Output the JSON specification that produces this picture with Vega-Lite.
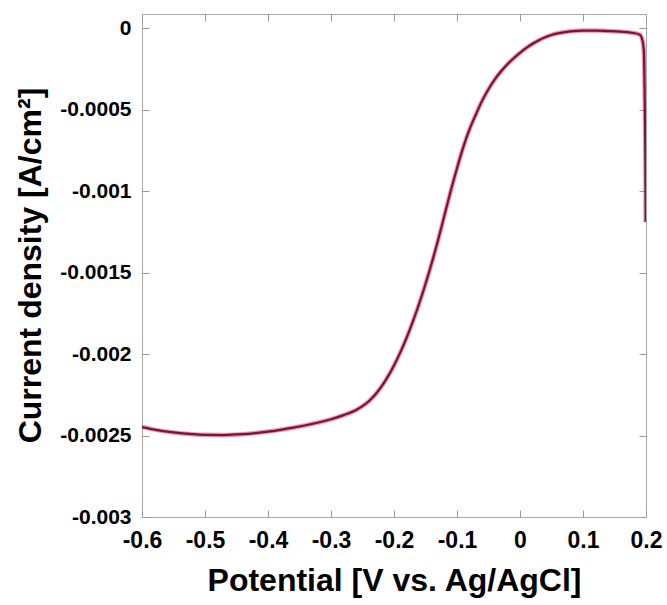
{
  "$schema": "https://vega.github.io/schema/vega-lite/v6.json",
  "width": 504,
  "height": 503,
  "autosize": {"type": "none"},
  "padding": {"left": 142, "top": 14, "right": 21, "bottom": 88},
  "background": "white",
  "config": {
    "view": {"stroke": "#a8a8a8", "strokeWidth": 1},
    "font": "Liberation Sans"
  },
  "data": {
    "values": [
      {"E": -0.6, "j": -0.002448},
      {"E": -0.58, "j": -0.002464},
      {"E": -0.55, "j": -0.002481},
      {"E": -0.52, "j": -0.002492},
      {"E": -0.5, "j": -0.002496},
      {"E": -0.47, "j": -0.002497},
      {"E": -0.44, "j": -0.002492},
      {"E": -0.42, "j": -0.002485},
      {"E": -0.4, "j": -0.002476},
      {"E": -0.38, "j": -0.002465},
      {"E": -0.36, "j": -0.002452},
      {"E": -0.34, "j": -0.002437},
      {"E": -0.32, "j": -0.00242},
      {"E": -0.3, "j": -0.0024},
      {"E": -0.28, "j": -0.002375},
      {"E": -0.26, "j": -0.002343},
      {"E": -0.25, "j": -0.00232},
      {"E": -0.24, "j": -0.00229},
      {"E": -0.23, "j": -0.00225},
      {"E": -0.22, "j": -0.0022},
      {"E": -0.21, "j": -0.00214},
      {"E": -0.2, "j": -0.00207},
      {"E": -0.19, "j": -0.00199},
      {"E": -0.18, "j": -0.0019},
      {"E": -0.17, "j": -0.0018},
      {"E": -0.16, "j": -0.00169},
      {"E": -0.15, "j": -0.00157},
      {"E": -0.14, "j": -0.00144},
      {"E": -0.13, "j": -0.0013},
      {"E": -0.12, "j": -0.00115},
      {"E": -0.11, "j": -0.001},
      {"E": -0.1, "j": -0.00086},
      {"E": -0.09, "j": -0.00073},
      {"E": -0.08, "j": -0.00062},
      {"E": -0.07, "j": -0.00053},
      {"E": -0.06, "j": -0.000445},
      {"E": -0.05, "j": -0.000375},
      {"E": -0.04, "j": -0.000315},
      {"E": -0.03, "j": -0.000265},
      {"E": -0.02, "j": -0.000222},
      {"E": -0.01, "j": -0.000185},
      {"E": 0.0, "j": -0.000152},
      {"E": 0.01, "j": -0.000122},
      {"E": 0.02, "j": -0.000096},
      {"E": 0.03, "j": -0.000074},
      {"E": 0.04, "j": -0.000056},
      {"E": 0.05, "j": -0.000042},
      {"E": 0.06, "j": -0.000032},
      {"E": 0.08, "j": -0.00002},
      {"E": 0.1, "j": -0.000015},
      {"E": 0.12, "j": -0.000015},
      {"E": 0.14, "j": -0.000018},
      {"E": 0.16, "j": -0.000022},
      {"E": 0.18, "j": -0.00003},
      {"E": 0.19, "j": -0.00004},
      {"E": 0.194, "j": -0.00007},
      {"E": 0.1965, "j": -0.000135},
      {"E": 0.198, "j": -0.00044},
      {"E": 0.199, "j": -0.0008},
      {"E": 0.1995, "j": -0.00119}
    ]
  },
  "layer": [
    {
      "mark": {"type": "line", "color": "#d8436f", "strokeWidth": 4.5, "opacity": 0.55, "interpolate": "monotone", "clip": true},
      "encoding": {
        "x": {
          "field": "E", "type": "quantitative",
          "scale": {"domain": [-0.6, 0.2], "nice": false, "zero": false},
          "axis": {
            "orient": "bottom",
            "values": [-0.6, -0.5, -0.4, -0.3, -0.2, -0.1, 0, 0.1, 0.2],
            "labelExpr": "datum.value + ''",
            "domain": false, "grid": false,
            "tickSize": -7, "tickColor": "#999999", "tickWidth": 1,
            "labelFont": "Liberation Sans", "labelFontWeight": "bold", "labelFontSize": 23,
            "labelColor": "black", "labelBaseline": "alphabetic", "labelPadding": 37,
            "labelFlush": false, "labelOverlap": false,
            "title": "Potential [V vs. Ag/AgCl]",
            "titleFont": "Liberation Sans", "titleFontWeight": "bold", "titleFontSize": 32,
            "titleColor": "black", "titleX": 252, "titleY": 73,
            "titleAlign": "center", "titleBaseline": "alphabetic"
          }
        },
        "y": {
          "field": "j", "type": "quantitative",
          "scale": {"domain": [-0.003, 0.0000865], "nice": false, "zero": false},
          "axis": {
            "orient": "left",
            "values": [0, -0.0005, -0.001, -0.0015, -0.002, -0.0025, -0.003],
            "labelExpr": "datum.value + ''",
            "domain": false, "grid": false,
            "tickSize": -7, "tickColor": "#999999", "tickWidth": 1,
            "labelFont": "Liberation Sans", "labelFontWeight": "bold", "labelFontSize": 21,
            "labelColor": "black", "labelPadding": 18,
            "labelFlush": false, "labelOverlap": false,
            "title": "Current density [A/cm²]",
            "titleFont": "Liberation Sans", "titleFontWeight": "bold", "titleFontSize": 32,
            "titleColor": "black", "titleX": -102, "titleY": 251,
            "titleAngle": -90, "titleAlign": "center", "titleBaseline": "alphabetic"
          }
        }
      }
    },
    {
      "mark": {"type": "line", "color": "#7e1234", "strokeWidth": 2.2, "interpolate": "monotone", "clip": true},
      "encoding": {
        "x": {
          "field": "E", "type": "quantitative",
          "axis": {
            "orient": "top",
            "values": [-0.6, -0.5, -0.4, -0.3, -0.2, -0.1, 0, 0.1, 0.2],
            "labels": false, "domain": false, "grid": false, "title": null,
            "tickSize": -7, "tickColor": "#999999", "tickWidth": 1
          }
        },
        "y": {
          "field": "j", "type": "quantitative",
          "axis": {
            "orient": "right",
            "values": [0, -0.0005, -0.001, -0.0015, -0.002, -0.0025, -0.003],
            "labels": false, "domain": false, "grid": false, "title": null,
            "tickSize": -7, "tickColor": "#999999", "tickWidth": 1
          }
        }
      }
    }
  ],
  "resolve": {"axis": {"x": "independent", "y": "independent"}}
}
